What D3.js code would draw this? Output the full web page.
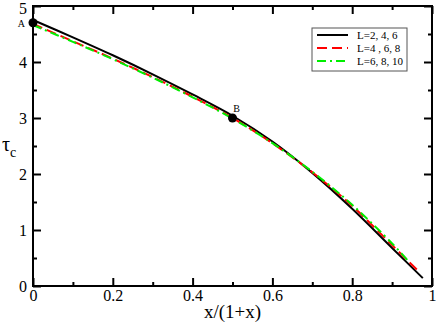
<!DOCTYPE html>
<html>
<head>
<meta charset="utf-8">
<script src="https://cdn.jsdelivr.net/npm/d3@7"></script>
<style>
  body { margin: 0; background: #fff; }
  svg { display: block; }
</style>
</head>
<body>
<svg id="chart" width="436" height="326"></svg>
<script>
// donnees
const xs_noir  = [0, 0.1, 0.2, 0.3, 0.4, 0.5, 0.6, 0.7, 0.8, 0.9, 0.977];
const tau_noir = [4.75, 4.44, 4.12, 3.78, 3.42, 3.04, 2.58, 2.02, 1.38, 0.68, 0.14];

const xs_rouge  = [0, 0.1, 0.2, 0.3, 0.4, 0.5, 0.6, 0.7, 0.8, 0.9, 0.968];
const tau_rouge = [4.68, 4.37, 4.06, 3.73, 3.38, 3.0, 2.55, 2.03, 1.43, 0.73, 0.25];

const xs_vert  = [0, 0.1, 0.2, 0.3, 0.4, 0.5, 0.6, 0.7, 0.8, 0.9, 0.94];
const tau_vert = [4.66, 4.36, 4.05, 3.72, 3.37, 2.99, 2.55, 2.04, 1.45, 0.76, 0.45];

const points = [{nom: "A", x: 0, y: 4.70}, {nom: "B", x: 0.5, y: 3.0}];
const legende = ["L=2, 4, 6", "L=4 , 6, 8", "L=6, 8, 10"];

const xTicks = [0, 0.2, 0.4, 0.6, 0.8, 1];
const yTicks = [0, 1, 2, 3, 4, 5];

const svg = d3.select("#chart");
const gauche = 33, droite = 432, haut = 6, bas = 286;
const police = "'Times New Roman', 'Liberation Serif', Times, serif";

const x = d3.scaleLinear().domain([0, 1]).range([gauche, droite]);
const y = d3.scaleLinear().domain([0, 5]).range([bas, haut]);

// graduations (vers l'interieur, sur les quatre cotes)
const xMin = d3.range(0.1, 1, 0.2);
const yMin = d3.range(0.5, 5, 1);

svg.append("g").attr("transform", `translate(0,${bas})`)
    .call(d3.axisBottom(x).tickValues(xTicks).tickSize(-8).tickPadding(4)
        .tickFormat(d => d3.format("")(d)))
    .call(g => g.select(".domain").remove());
svg.append("g").attr("transform", `translate(0,${bas})`)
    .call(d3.axisBottom(x).tickValues(xMin).tickSize(-4).tickFormat(""))
    .call(g => g.select(".domain").remove());
svg.append("g").attr("transform", `translate(0,${haut})`)
    .call(d3.axisTop(x).tickValues(xTicks.concat(xMin)).tickSize(0).tickFormat(""))
    .call(g => g.select(".domain").remove())
    .call(g => g.selectAll(".tick line").attr("y2", (d) => xTicks.includes(d) ? 8 : 4));

svg.append("g").attr("transform", `translate(${gauche},0)`)
    .call(d3.axisLeft(y).tickValues(yTicks).tickSize(-8).tickPadding(6).tickFormat(d3.format("d")))
    .call(g => g.select(".domain").remove())
    .call(g => g.selectAll(".tick text").filter(d => d == 5).attr("dy", "0.45em"));
svg.append("g").attr("transform", `translate(${gauche},0)`)
    .call(d3.axisLeft(y).tickValues(yMin).tickSize(-4).tickFormat(""))
    .call(g => g.select(".domain").remove());
svg.append("g").attr("transform", `translate(${droite},0)`)
    .call(d3.axisRight(y).tickValues(yTicks.concat(yMin)).tickSize(0).tickFormat(""))
    .call(g => g.select(".domain").remove())
    .call(g => g.selectAll(".tick line").attr("x2", (d) => yTicks.includes(d) ? -8 : -4));

svg.selectAll("g").attr("font-family", police);
svg.selectAll(".tick line").attr("stroke", "#000").attr("stroke-width", 2);
svg.selectAll(".tick text")
    .attr("fill", "#000")
    .attr("font-family", police)
    .attr("font-size", 16);

// cadre
svg.append("rect")
    .attr("x", gauche).attr("y", haut)
    .attr("width", droite - gauche).attr("height", bas - haut)
    .attr("fill", "none").attr("stroke", "#000").attr("stroke-width", 2);

// courbes
const ligne = d3.line().x(d => x(d[0])).y(d => y(d[1])).curve(d3.curveCatmullRom);
const series = [
    {xs: xs_noir, ys: tau_noir, couleur: "#000", dash: null},
    {xs: xs_rouge, ys: tau_rouge, couleur: "#ff0000", dash: "10,5"},
    {xs: xs_vert, ys: tau_vert, couleur: "#00ee00", dash: "9,4,2,4"}
];
svg.append("g").selectAll("path")
    .data(series)
    .join("path")
    .attr("d", s => ligne(d3.zip(s.xs, s.ys)))
    .attr("fill", "none")
    .attr("stroke", s => s.couleur)
    .attr("stroke-width", 2)
    .attr("stroke-dasharray", s => s.dash);

// points A et B
svg.append("g").selectAll("circle")
    .data(points)
    .join("circle")
    .attr("cx", d => x(d.x)).attr("cy", d => y(d.y))
    .attr("r", 4.5).attr("fill", "#000");
svg.append("g").selectAll("text")
    .data(points)
    .join("text")
    .attr("x", d => d.nom == "A" ? x(d.x) - 8 : x(d.x) + 4)
    .attr("y", d => d.nom == "A" ? y(d.y) + 4 : y(d.y) - 6)
    .attr("text-anchor", d => d.nom == "A" ? "end" : "middle")
    .attr("font-family", police)
    .attr("font-size", 10)
    .text(d => d.nom);

// legende
const leg = svg.append("g").attr("transform", "translate(312,28)");
leg.append("rect")
    .attr("width", 95).attr("height", 43)
    .attr("fill", "#fff").attr("stroke", "#555").attr("stroke-width", 1);
const entree = leg.selectAll(".entree")
    .data(series)
    .join("g")
    .attr("class", "entree")
    .attr("transform", (d, i) => `translate(0,${7 + i * 13})`);
entree.append("line")
    .attr("x1", 5).attr("x2", 36)
    .attr("stroke", d => d.couleur)
    .attr("stroke-width", 2)
    .attr("stroke-dasharray", d => d.dash);
entree.append("text")
    .attr("x", 45).attr("y", 4)
    .attr("font-family", police)
    .attr("font-size", 11)
    .text((d, i) => legende[i]);

// titres des axes
svg.append("text")
    .attr("x", (gauche + droite) / 2).attr("y", 318)
    .attr("text-anchor", "middle")
    .attr("font-family", police)
    .attr("font-size", 19)
    .text("x/(1+x)");
const ylab = svg.append("text").attr("x", 2).attr("y", 151)
    .attr("font-family", police).attr("font-size", 20);
ylab.append("tspan").text("τ");
ylab.append("tspan").attr("dy", 6).attr("font-size", 14).text("c");
</script>
</body>
</html>
